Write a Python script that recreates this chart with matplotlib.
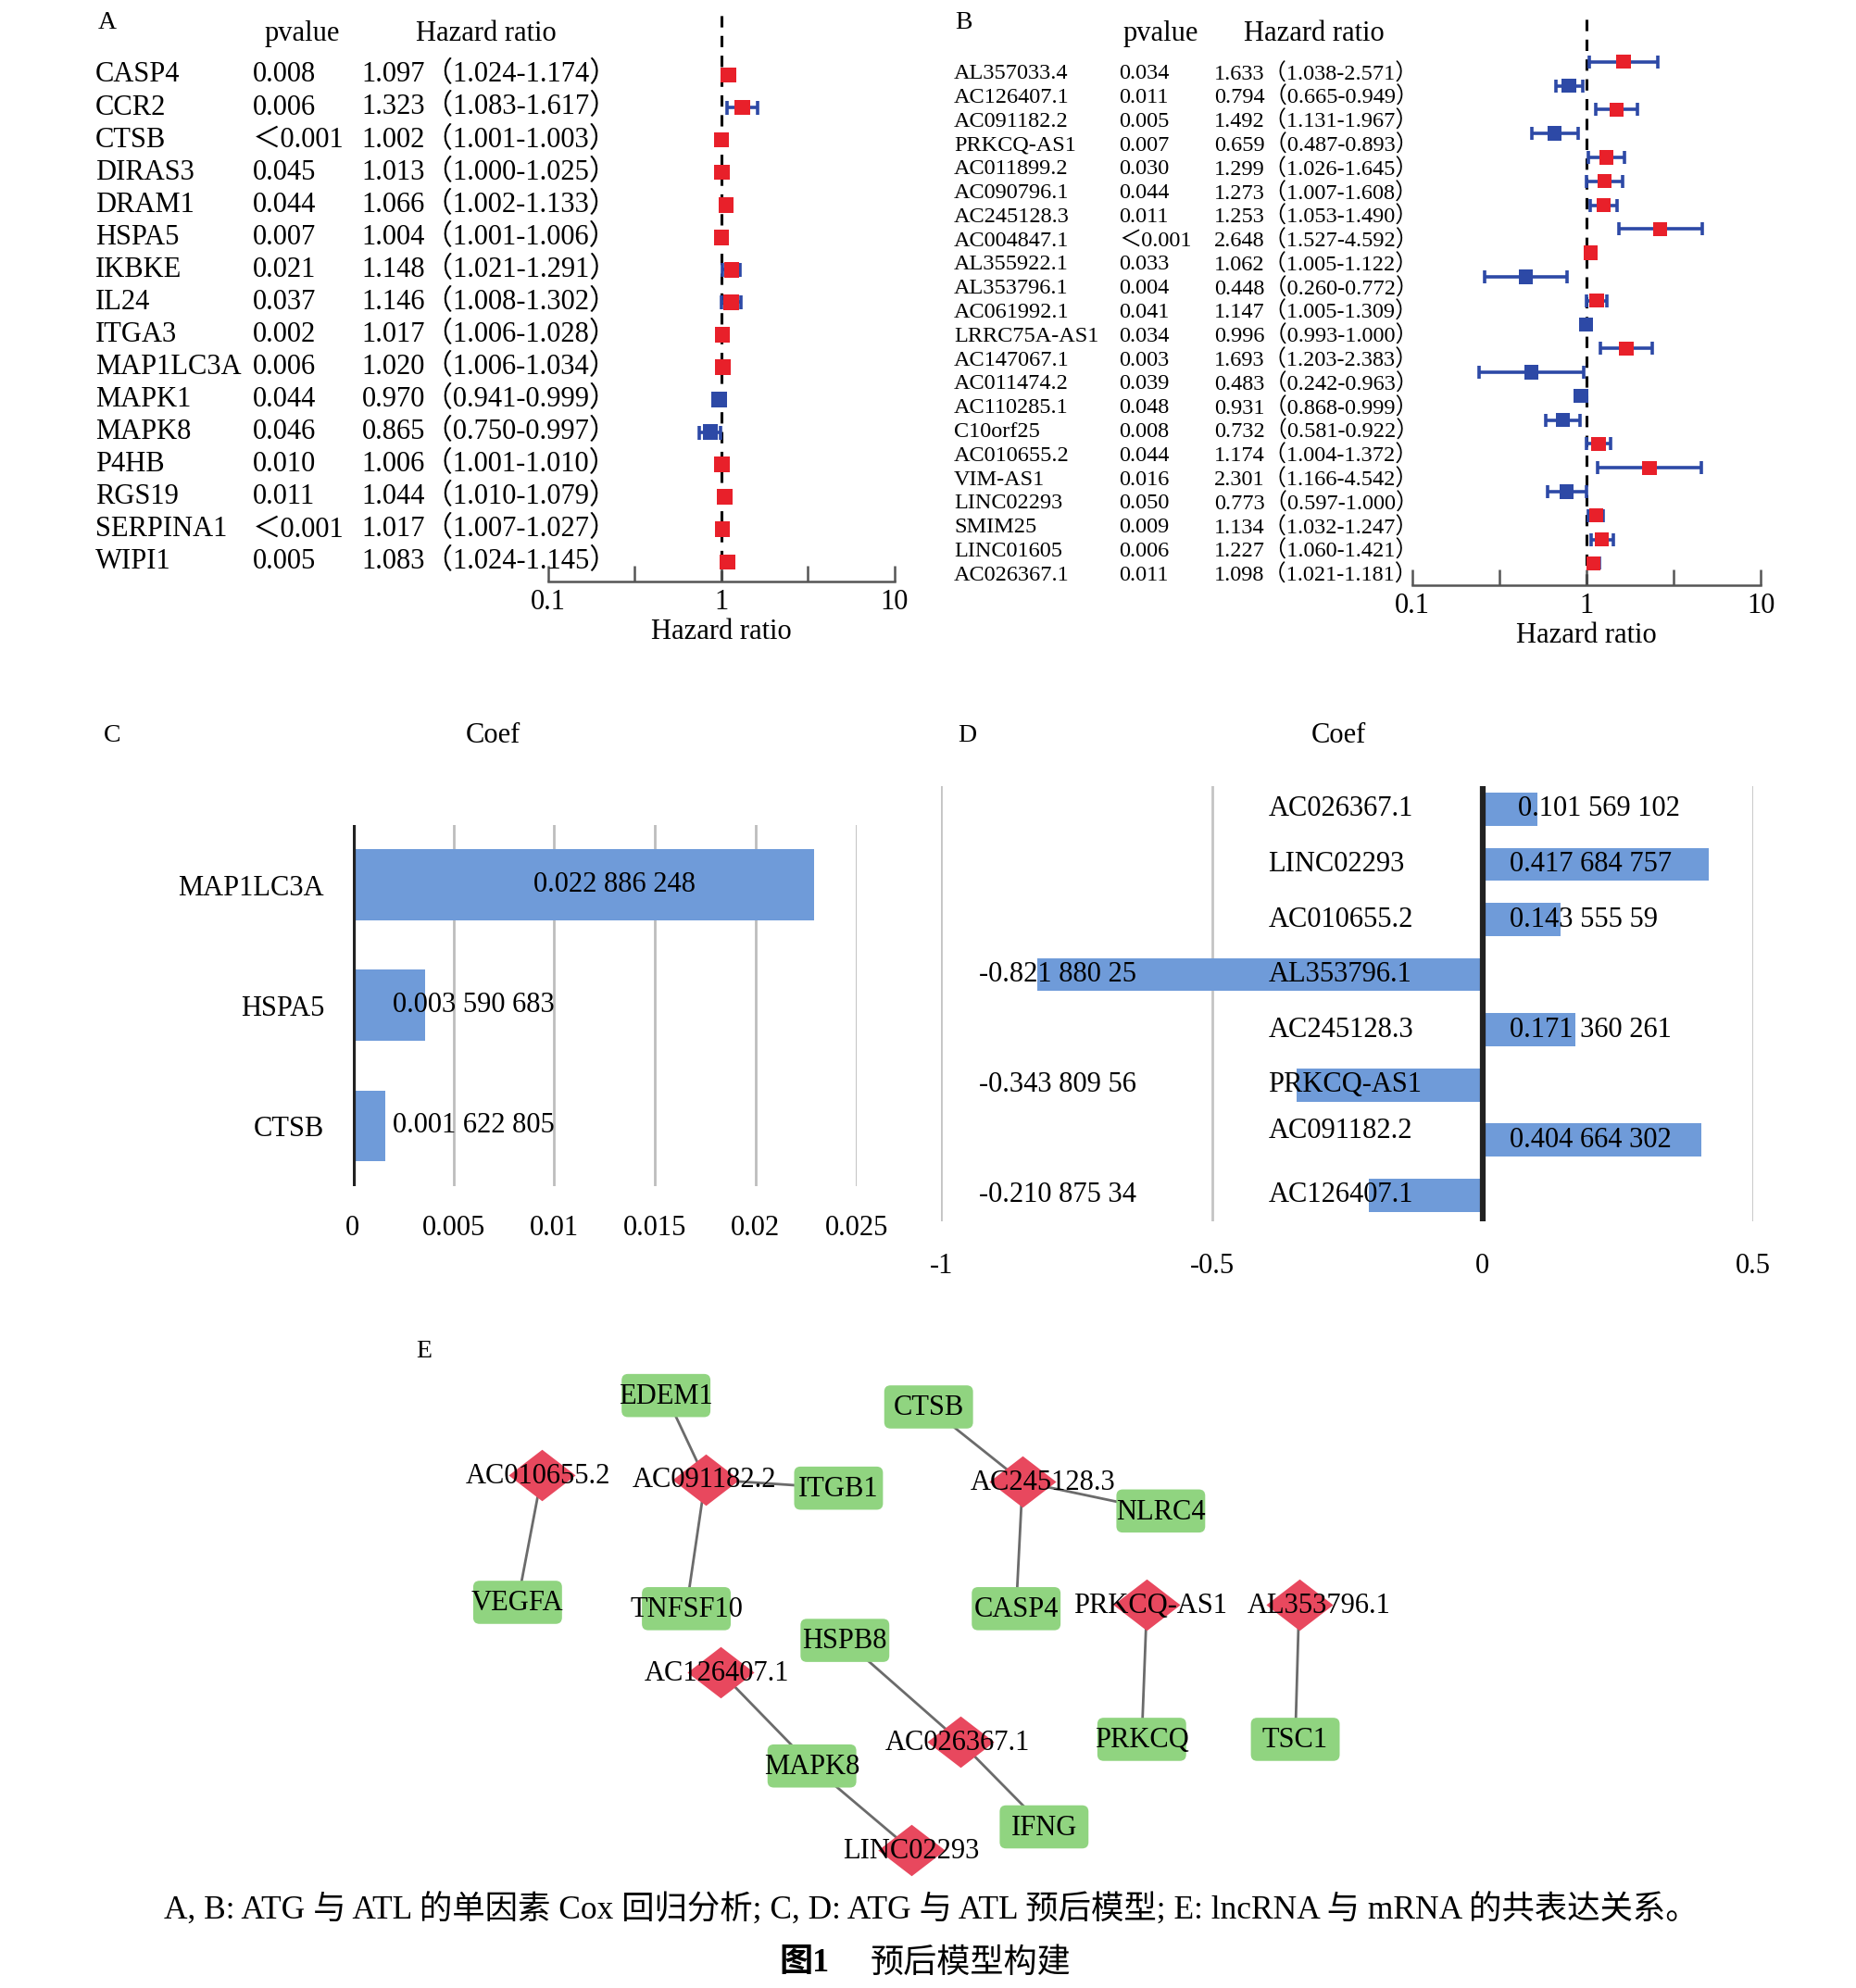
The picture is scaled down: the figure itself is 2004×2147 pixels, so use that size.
import numpy as np
import matplotlib
matplotlib.use('Agg')
import matplotlib.pyplot as plt
from matplotlib import transforms
from matplotlib.patches import FancyBboxPatch

plt.rcParams['font.family'] = ['Liberation Serif', 'Noto Sans CJK SC', 'DejaVu Sans']

# ---- A: ATG univariate cox ----
a_genes = ['CASP4', 'CCR2', 'CTSB', 'DIRAS3', 'DRAM1', 'HSPA5', 'IKBKE', 'IL24', 'ITGA3',
           'MAP1LC3A', 'MAPK1', 'MAPK8', 'P4HB', 'RGS19', 'SERPINA1', 'WIPI1']
a_p = ['0.008', '0.006', '＜0.001', '0.045', '0.044', '0.007', '0.021', '0.037', '0.002',
       '0.006', '0.044', '0.046', '0.010', '0.011', '＜0.001', '0.005']
a_hr = [1.097, 1.323, 1.002, 1.013, 1.066, 1.004, 1.148, 1.146, 1.017, 1.020, 0.970, 0.865,
        1.006, 1.044, 1.017, 1.083]
a_lo = [1.024, 1.083, 1.001, 1.000, 1.002, 1.001, 1.021, 1.008, 1.006, 1.006, 0.941, 0.750,
        1.001, 1.010, 1.007, 1.024]
a_hi = [1.174, 1.617, 1.003, 1.025, 1.133, 1.006, 1.291, 1.302, 1.028, 1.034, 0.999, 0.997,
        1.010, 1.079, 1.027, 1.145]

# ---- B: lncRNA univariate cox ----
b_genes = ['AL357033.4', 'AC126407.1', 'AC091182.2', 'PRKCQ-AS1', 'AC011899.2', 'AC090796.1',
           'AC245128.3', 'AC004847.1', 'AL355922.1', 'AL353796.1', 'AC061992.1', 'LRRC75A-AS1',
           'AC147067.1', 'AC011474.2', 'AC110285.1', 'C10orf25', 'AC010655.2', 'VIM-AS1',
           'LINC02293', 'SMIM25', 'LINC01605', 'AC026367.1']
b_p = ['0.034', '0.011', '0.005', '0.007', '0.030', '0.044', '0.011', '＜0.001', '0.033', '0.004',
       '0.041', '0.034', '0.003', '0.039', '0.048', '0.008', '0.044', '0.016', '0.050', '0.009',
       '0.006', '0.011']
b_hr = [1.633, 0.794, 1.492, 0.659, 1.299, 1.273, 1.253, 2.648, 1.062, 0.448, 1.147, 0.996,
        1.693, 0.483, 0.931, 0.732, 1.174, 2.301, 0.773, 1.134, 1.227, 1.098]
b_lo = [1.038, 0.665, 1.131, 0.487, 1.026, 1.007, 1.053, 1.527, 1.005, 0.260, 1.005, 0.993,
        1.203, 0.242, 0.868, 0.581, 1.004, 1.166, 0.597, 1.032, 1.060, 1.021]
b_hi = [2.571, 0.949, 1.967, 0.893, 1.645, 1.608, 1.490, 4.592, 1.122, 0.772, 1.309, 1.000,
        2.383, 0.963, 0.999, 0.922, 1.372, 4.542, 1.000, 1.247, 1.421, 1.181]

# ---- C / D: model coefficients ----
c_genes = ['MAP1LC3A', 'HSPA5', 'CTSB']
c_coef = [0.022886248, 0.003590683, 0.001622805]
c_text = ['0.022 886 248', '0.003 590 683', '0.001 622 805']

d_genes = ['AC026367.1', 'LINC02293', 'AC010655.2', 'AL353796.1', 'AC245128.3', 'PRKCQ-AS1',
           'AC091182.2', 'AC126407.1']
d_coef = [0.101569102, 0.417684757, 0.14355559, -0.82188025, 0.171360261, -0.34380956,
          0.404664302, -0.21087534]
d_text = ['0.101 569 102', '0.417 684 757', '0.143 555 59', '-0.821 880 25', '0.171 360 261',
          '-0.343 809 56', '0.404 664 302', '-0.210 875 34']

# ---- E: co-expression network (layout in panel pixel units) ----
mrna = ['EDEM1', 'CTSB', 'ITGB1', 'NLRC4', 'VEGFA', 'TNFSF10', 'CASP4', 'HSPB8', 'PRKCQ',
        'TSC1', 'MAPK8', 'IFNG']
mrna_x = [525, 732, 661, 915, 408, 541, 801, 666, 900, 1021, 640, 823]
mrna_y = [1100, 1109, 1173, 1191, 1263, 1268, 1268, 1293, 1371, 1371, 1392, 1440]
lnc = ['AC010655.2', 'AC091182.2', 'AC245128.3', 'PRKCQ-AS1', 'AL353796.1', 'AC126407.1',
       'AC026367.1', 'LINC02293']
lnc_x = [427, 556, 806, 904, 1024, 568, 757, 718]
lnc_y = [1163, 1166, 1168, 1265, 1265, 1318, 1373, 1458]
lnc_dx = [-3, -1, 16, 3, 16, -3, -2, 0]
edges = [('EDEM1', 'AC091182.2'), ('AC091182.2', 'ITGB1'), ('AC091182.2', 'TNFSF10'),
         ('AC010655.2', 'VEGFA'), ('CTSB', 'AC245128.3'), ('AC245128.3', 'NLRC4'),
         ('AC245128.3', 'CASP4'), ('PRKCQ-AS1', 'PRKCQ'), ('AL353796.1', 'TSC1'),
         ('HSPB8', 'AC026367.1'), ('AC026367.1', 'IFNG'), ('AC126407.1', 'MAPK8'),
         ('MAPK8', 'LINC02293')]

RED = '#e8202a'
BLUE = '#2d49a6'
BAR = '#6f9bd9'
GREEN = '#90d480'
PINK = '#e8485e'

W, H = 1463.0, 1567.0   # layout measured on a scaled-down copy
fig = plt.figure(figsize=(20.04, 21.47), dpi=100)


def box(x0, y0, x1, y1):
    return [x0 / W, 1 - y1 / H, (x1 - x0) / W, (y1 - y0) / H]


def fx(x):
    return x / W


def fy(y):
    return 1 - y / H


def forest(rect, genes, pv, hr, lo, hi, top_pad, bot_pad, shift, cols, fs, head_fs, ms):
    ax = fig.add_axes(rect)
    n = len(genes)
    yy = np.arange(n)
    ax.set_xscale('log')
    ax.set_xlim(0.1, 10)
    ax.set_ylim(n - 1 + bot_pad, -top_pad)
    for s in ['top', 'right', 'left']:
        ax.spines[s].set_visible(False)
    ax.spines['bottom'].set_color('#555555')
    ax.spines['bottom'].set_linewidth(1.8)
    ax.set_yticks([])
    ax.set_xticks([0.1, 10 ** -0.5, 1, 10 ** 0.5, 10])
    ax.set_xticklabels(['0.1', '', '1', '', '10'])
    ax.xaxis.set_minor_locator(matplotlib.ticker.NullLocator())
    ax.tick_params(axis='x', direction='in', length=12, width=1.8, color='#555555',
                   labelsize=head_fs, pad=6)
    ax.axvline(1, color='black', ls=(0, (4, 3)), lw=2.2, zorder=1)
    my = yy - shift
    hr = np.array(hr)
    lo = np.array(lo)
    hi = np.array(hi)
    ax.errorbar(hr, my, xerr=[hr - lo, hi - hr], fmt='none', ecolor=BLUE, elinewidth=2.6,
                capsize=ms * 0.45, capthick=2.6, zorder=2)
    colors = [RED if h >= 1 else BLUE for h in hr]
    ax.scatter(hr, my, marker='s', s=ms ** 2, c=colors, zorder=3, linewidths=0)
    ax.set_xlabel('Hazard ratio', fontsize=head_fs, labelpad=2)
    tr = transforms.blended_transform_factory(fig.transFigure, ax.transData)
    for i in range(n):
        ax.text(fx(cols[0]), i, genes[i], transform=tr, fontsize=fs, va='center')
        ax.text(fx(cols[1]), i, pv[i], transform=tr, fontsize=fs, va='center')
        ax.text(fx(cols[2]), i, '%.3f（%.3f-%.3f）' % (hr[i], lo[i], hi[i]), transform=tr,
                fontsize=fs, va='center')
    return ax


# panel A
axA = forest(box(432, 12, 705, 458), a_genes, a_p, a_hr, a_lo, a_hi, 1.84, 0.59, 0.0,
             [75, 199, 285], 22, 22, 12)
fig.text(fx(77), fy(18), 'A', fontsize=20, va='center')
fig.text(fx(238), fy(27), 'pvalue', fontsize=22, va='center', ha='center')
fig.text(fx(383), fy(27), 'Hazard ratio', fontsize=22, va='center', ha='center')

# panel B
axB = forest(box(1113, 12, 1388, 461), b_genes, b_p, b_hr, b_lo, b_hi, 2.45, 0.4, 0.5,
             [752, 882, 957], 17.5, 22, 11)
fig.text(fx(753), fy(18), 'B', fontsize=20, va='center')
fig.text(fx(915), fy(27), 'pvalue', fontsize=22, va='center', ha='center')
fig.text(fx(1036), fy(27), 'Hazard ratio', fontsize=22, va='center', ha='center')

# panel C
axC = fig.add_axes(box(278, 650, 675, 935))
yc = np.arange(len(c_genes))
axC.barh(yc, c_coef, height=0.59, color=BAR, zorder=2)
axC.set_xlim(0, 0.025)
axC.set_ylim(2.5, -0.5)
axC.set_xticks(np.arange(0, 0.0251, 0.005))
axC.set_xticklabels(['0', '0.005', '0.01', '0.015', '0.02', '0.025'])
axC.grid(axis='x', color='#bdbdbd', lw=2, zorder=0)
axC.axvline(0, color='#222222', lw=4.5, zorder=3)
for s in axC.spines.values():
    s.set_visible(False)
axC.tick_params(axis='x', length=0, labelsize=22, pad=22)
axC.tick_params(axis='y', length=0, labelsize=22, pad=22)
axC.set_yticks(yc)
axC.set_yticklabels(c_genes)
axC.text(0.013, 0, c_text[0], fontsize=22, ha='center', va='center', zorder=4)
for i in [1, 2]:
    axC.text(0.002, i, c_text[i], fontsize=22, ha='left', va='center', zorder=4)
fig.text(fx(82), fy(580), 'C', fontsize=20, va='center')
fig.text(fx(389), fy(580), 'Coef', fontsize=22, va='center', ha='center')

# panel D
axD = fig.add_axes(box(742, 620, 1382, 963))
yd = np.arange(len(d_genes))
axD.barh(yd, d_coef, height=0.6, color=BAR, zorder=2)
axD.set_xlim(-1, 0.5)
axD.set_ylim(7.48, -0.41)
axD.set_xticks([-1, -0.5, 0, 0.5])
axD.set_xticklabels(['-1', '-0.5', '0', '0.5'])
axD.set_yticks([])
axD.grid(axis='x', color='#c4c4c4', lw=2, zorder=0)
axD.axvline(0, color='#222222', lw=4.5, zorder=3)
for s in axD.spines.values():
    s.set_visible(False)
axD.tick_params(axis='x', length=0, labelsize=22, pad=24)
for i, g in enumerate(d_genes):
    off = -0.17 if g == 'AC091182.2' else 0
    axD.text(-0.396, i + off, g, fontsize=22, ha='left', va='center', zorder=4)
    if d_coef[i] > 0:
        x0 = 0.066 if i == 0 else 0.05
        axD.text(x0, i, d_text[i], fontsize=22, ha='left', va='center', zorder=4)
    else:
        axD.text(-0.93, i, d_text[i], fontsize=22, ha='left', va='center', zorder=4)
fig.text(fx(755), fy(580), 'D', fontsize=20, va='center')
fig.text(fx(1055), fy(580), 'Coef', fontsize=22, va='center', ha='center')

# panel E
axE = fig.add_axes(box(300, 1050, 1160, 1480))
axE.set_xlim(300, 1160)
axE.set_ylim(1480, 1050)
axE.axis('off')
pos = {}
for n, x, y in zip(mrna, mrna_x, mrna_y):
    pos[n] = (x, y)
for n, x, y in zip(lnc, lnc_x, lnc_y):
    pos[n] = (x, y)
for a, b in edges:
    axE.plot([pos[a][0], pos[b][0]], [pos[a][1], pos[b][1]], color='#6b6b6b', lw=2, zorder=1)
for n, x, y in zip(mrna, mrna_x, mrna_y):
    p = FancyBboxPatch((x - 31, y - 13), 62, 26, boxstyle='round,pad=4,rounding_size=5',
                       fc=GREEN, ec='none', zorder=2)
    axE.add_patch(p)
    axE.text(x, y + 1, n, fontsize=22, ha='center', va='center', zorder=4)
diamond = [(-1.3, 0), (0, 1), (1.3, 0), (0, -1), (-1.3, 0)]
axE.scatter(lnc_x, lnc_y, marker=diamond, s=52 ** 2, c=PINK, linewidths=0, zorder=3)
for n, x, y, dx in zip(lnc, lnc_x, lnc_y, lnc_dx):
    axE.text(x + dx, y + 1, n, fontsize=22, ha='center', va='center', zorder=4)
fig.text(fx(328), fy(1065), 'E', fontsize=20, va='center')

# caption
fig.text(fx(734), fy(1506),
         'A, B: ATG 与 ATL 的单因素 Cox 回归分析; C, D: ATG 与 ATL 预后模型; E: lncRNA 与 mRNA 的共表达关系。',
         fontsize=25.5, ha='center', va='center')
fig.text(fx(634), fy(1548), '图1', fontsize=26, ha='center', va='center', fontweight='bold')
fig.text(fx(765), fy(1548), '预后模型构建', fontsize=26, ha='center', va='center')

fig.savefig('out.png', dpi=100)
